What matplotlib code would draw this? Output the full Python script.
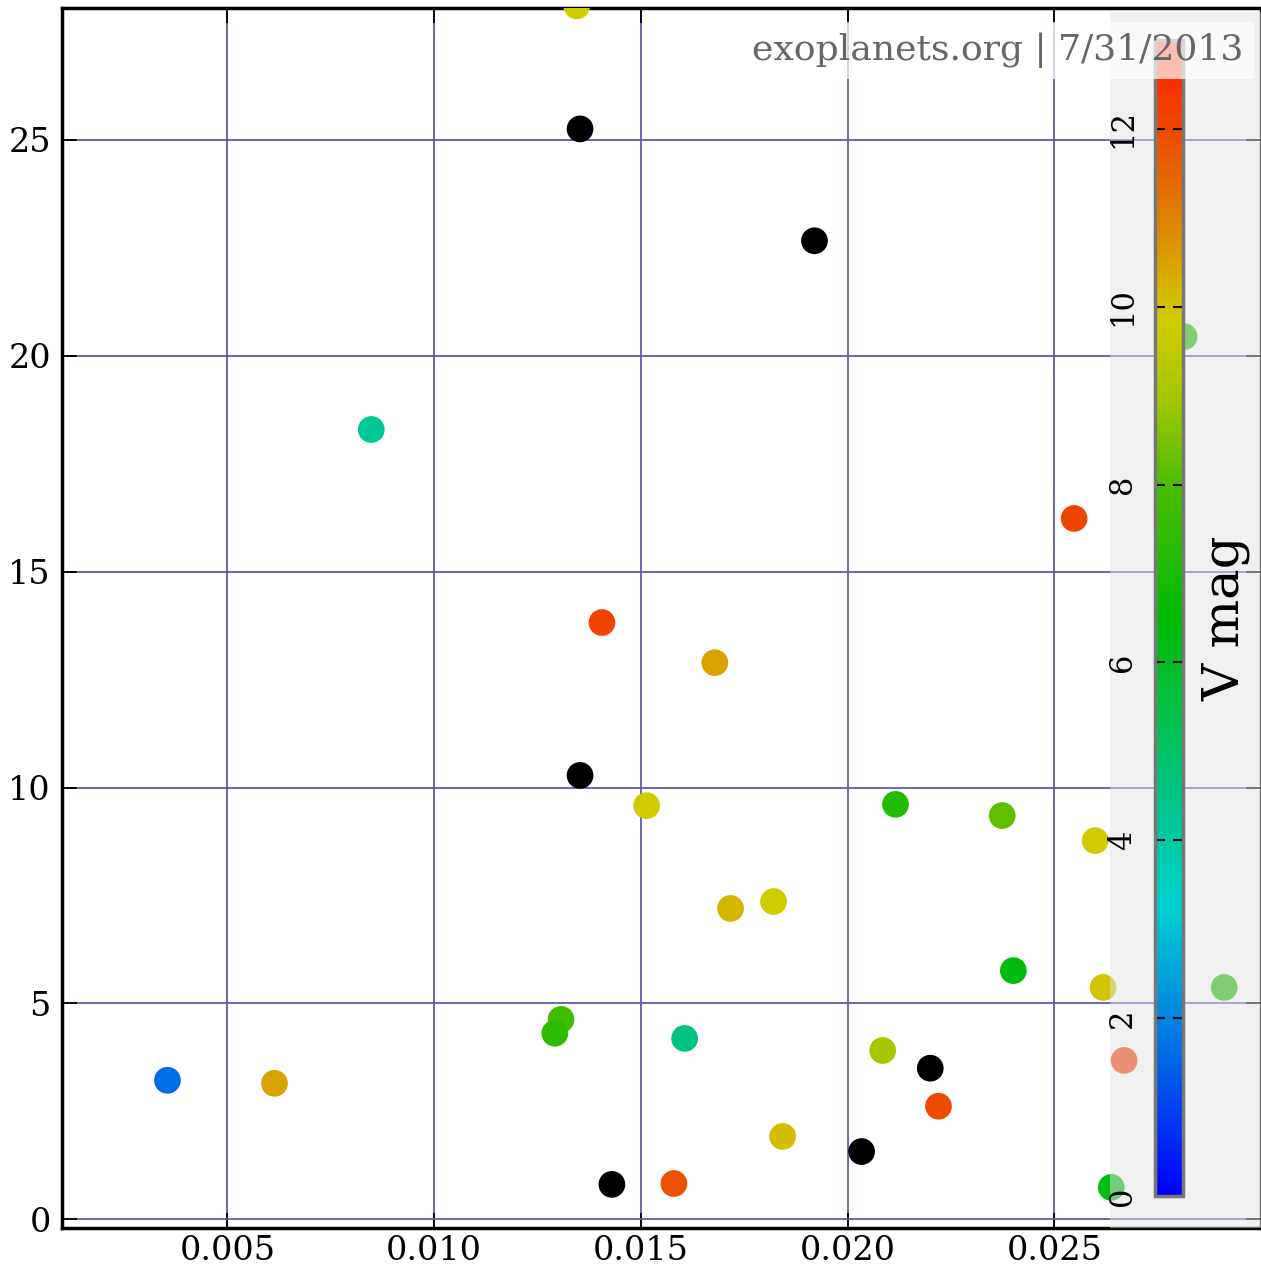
import numpy as np
import matplotlib.pyplot as plt
from matplotlib.colors import LinearSegmentedColormap, Normalize
from matplotlib.patches import Rectangle

# planets: x value, y value, host star V magnitude (nan = unknown, drawn black)
x_vals = [0.00355, 0.00614, 0.00848, 0.01345, 0.01353, 0.0192, 0.01353, 0.01406,
          0.01679, 0.01514, 0.01717, 0.01821, 0.01307, 0.01292, 0.01606, 0.0143,
          0.0158, 0.01843, 0.02034, 0.02085, 0.02116, 0.0220, 0.0222, 0.02374,
          0.02401, 0.02548, 0.02599, 0.02618, 0.02638, 0.02669, 0.02814, 0.02911]
y_vals = [3.22, 3.15, 18.29, 28.1, 25.25, 22.66, 10.28, 13.82,
          12.89, 9.58, 7.2, 7.36, 4.63, 4.31, 4.19, 0.81,
          0.83, 1.92, 1.57, 3.91, 9.61, 3.5, 2.62, 9.35,
          5.76, 16.23, 8.77, 5.37, 0.74, 3.68, 20.44, 5.37]
vmag = [1.6, 10.5, 4.3, 9.8, np.nan, np.nan, np.nan, 12.0,
        10.5, 9.8, 10.2, 9.8, 7.8, 7.4, 4.6, np.nan,
        11.8, 10.1, np.nan, 9.0, 7.2, np.nan, 11.9, 8.2,
        6.3, 12.0, 9.9, 10.0, 6.2, 12.2, 7.2, 7.1]

cbar_ticks = [0, 2, 4, 6, 8, 10, 12]

plt.rcParams['font.family'] = 'DejaVu Serif'

cmap = LinearSegmentedColormap.from_list('vmag', [
    (0.0 / 13, (0.0, 0.0, 1.0)),
    (1.5 / 13, (0.0, 0.40, 0.90)),
    (3.25 / 13, (0.0, 0.82, 0.82)),
    (4.6 / 13, (0.0, 0.77, 0.50)),
    (6.5 / 13, (0.0, 0.73, 0.0)),
    (8.0 / 13, (0.30, 0.74, 0.0)),
    (9.0 / 13, (0.65, 0.78, 0.0)),
    (9.85 / 13, (0.82, 0.80, 0.0)),
    (10.8 / 13, (0.86, 0.56, 0.0)),
    (12.0 / 13, (0.93, 0.28, 0.0)),
    (13.0 / 13, (1.0, 0.12, 0.0)),
])
cmap.set_bad('black')
norm = Normalize(vmin=0, vmax=13)

fig = plt.figure(figsize=(12.61, 12.71), dpi=100)
ax = fig.add_axes([62 / 1261, 43 / 1271, 1 - 62 / 1261, 1220 / 1271])

ax.scatter(x_vals, y_vals, c=vmag, cmap=cmap, norm=norm, s=370,
           linewidths=0, plotnonfinite=True, zorder=3)

ax.set_xlim(0.001, 0.030)
ax.set_ylim(-0.2, 28.05)
ax.set_xticks([0.005, 0.010, 0.015, 0.020, 0.025])
ax.set_xticklabels(['0.005', '0.010', '0.015', '0.020', '0.025'])
ax.set_yticks([0, 5, 10, 15, 20, 25])
ax.grid(True, color='#5c5cb4', linewidth=1.3)
ax.set_axisbelow(True)
ax.tick_params(direction='in', length=11, width=1.3, top=True, right=True,
               labelsize=24, colors='black')
ax.tick_params(axis='y', pad=8)
ax.tick_params(axis='x', pad=5)
for sp in ax.spines.values():
    sp.set_linewidth(2.5)
    sp.set_color('black')

# translucent panel behind the colour bar
panel = Rectangle((1110 / 1261, 43 / 1271), 151 / 1261, 1216 / 1271,
                  transform=fig.transFigure, facecolor='#e2e2e2', alpha=0.5,
                  edgecolor='none', zorder=1)
fig.add_artist(panel)

cax = fig.add_axes([1155 / 1261, 75 / 1271, 28 / 1261, 1156 / 1271])
cax.set_zorder(2)
cb = fig.colorbar(plt.cm.ScalarMappable(norm=norm, cmap=cmap), cax=cax)
cb.set_ticks(cbar_ticks)
cb.outline.set_edgecolor('#777777')
cb.outline.set_linewidth(2.5)
cax.yaxis.set_ticks_position('both')
cax.tick_params(direction='in', length=7, width=1.5, colors='black',
                left=True, right=True, labelleft=True, labelright=False,
                labelsize=22, pad=12)
for lbl in cax.get_yticklabels():
    lbl.set_rotation(90)
    lbl.set_va('center')
    lbl.set_ha('right')
fig.text(1226 / 1261, 1 - 618 / 1271, 'V mag', rotation=90, fontsize=37,
         ha='center', va='center', zorder=3)

fig.text(1243 / 1261, 1 - 60 / 1271, 'exoplanets.org | 7/31/2013',
         fontsize=26, color='#666666', ha='right', va='baseline', zorder=4,
         bbox=dict(boxstyle='square,pad=0.3', facecolor='white',
                   edgecolor='none', alpha=0.7))

fig.savefig('out.png', dpi=100)
